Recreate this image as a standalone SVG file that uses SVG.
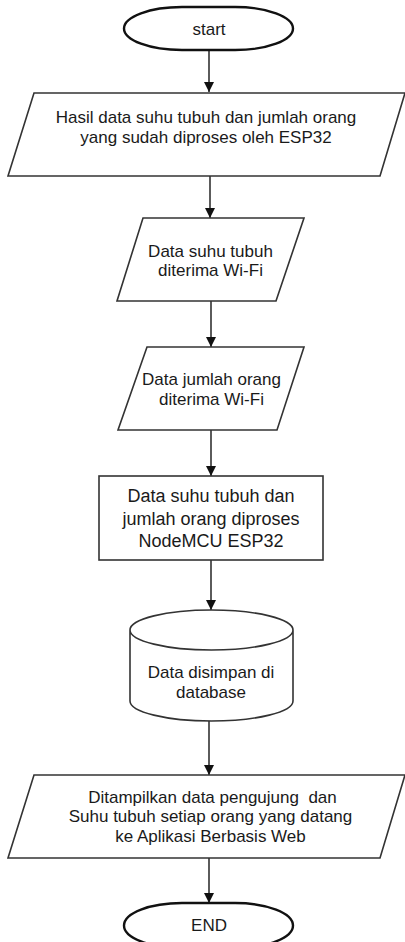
<svg xmlns="http://www.w3.org/2000/svg" width="405" height="942" viewBox="0 0 405 942">
<style>
.shape{fill:#fff;stroke:#333;stroke-width:1.6}
.term{fill:#fff;stroke:#111;stroke-width:2.4}
.t{font-family:"Liberation Sans",Arial,sans-serif;font-size:17px;fill:#1a1a1a;text-anchor:middle}
.t18{font-size:18px}
.conn line{stroke:#333;stroke-width:1.6;fill:none}
</style>
<defs>
<marker id="ah" viewBox="0 0 10 10" refX="10" refY="5" markerWidth="10" markerHeight="10" markerUnits="userSpaceOnUse" orient="auto">
<path d="M0,0 L10,5 L0,10 z" fill="#111"/>
</marker>
</defs>
<rect width="405" height="942" fill="#fff"/>
<g class="conn">
<line x1="209" y1="50" x2="209" y2="92" marker-end="url(#ah)"/>
<line x1="210" y1="176" x2="210" y2="218" marker-end="url(#ah)"/>
<line x1="211" y1="301" x2="211" y2="347" marker-end="url(#ah)"/>
<line x1="211" y1="430" x2="211" y2="476" marker-end="url(#ah)"/>
<line x1="211" y1="560" x2="211" y2="610" marker-end="url(#ah)"/>
<line x1="209" y1="721" x2="209" y2="775" marker-end="url(#ah)"/>
<line x1="209" y1="858" x2="209" y2="903" marker-end="url(#ah)"/>
</g>
<g id="start">
<rect class="term" x="124" y="7" width="169" height="43" rx="58" ry="21.5"/>
<text class="t" x="209" y="35">start</text>
</g>
<g id="hasil">
<polygon class="shape" points="34,93 405,93 380,176 8,176"/>
<text class="t" x="206" y="123">Hasil data suhu tubuh dan jumlah orang</text>
<text class="t" x="206" y="143">yang sudah diproses oleh ESP32</text>
</g>
<g id="suhu">
<polygon class="shape" points="143,218 304,218 276,301 117,301"/>
<text class="t" x="210.5" y="257">Data suhu tubuh</text>
<text class="t" x="210.5" y="276">diterima Wi-Fi</text>
</g>
<g id="jumlah">
<polygon class="shape" points="147,347 304,347 277,430 118,430"/>
<text class="t" x="211.5" y="385">Data jumlah orang</text>
<text class="t" x="211.5" y="405">diterima Wi-Fi</text>
</g>
<g id="proses">
<rect class="shape" x="99" y="476" width="224" height="84"/>
<text class="t t18" x="211" y="502">Data suhu tubuh dan</text>
<text class="t t18" x="211" y="525">jumlah orang diproses</text>
<text class="t t18" x="211" y="547">NodeMCU ESP32</text>
</g>
<g id="database">
<path class="shape" d="M130,630 L130,701 A81.5,20 0 0 0 293,701 L293,630 A81.5,20 0 0 0 130,630 A81.5,20 0 0 0 293,630"/>
<text class="t" x="211" y="678">Data disimpan di</text>
<text class="t" x="211" y="698">database</text>
</g>
<g id="tampil">
<polygon class="shape" points="34,775 405,775 380,858 8,858"/>
<text class="t" x="212.5" y="803" xml:space="preserve">Ditampilkan data pengujung  dan</text>
<text class="t" x="210.5" y="822">Suhu tubuh setiap orang yang datang</text>
<text class="t" x="210.5" y="842">ke Aplikasi Berbasis Web</text>
</g>
<g id="end">
<rect class="term" x="124" y="903" width="169" height="45" rx="58" ry="22.5"/>
<text class="t" x="209" y="931">END</text>
</g>
</svg>
